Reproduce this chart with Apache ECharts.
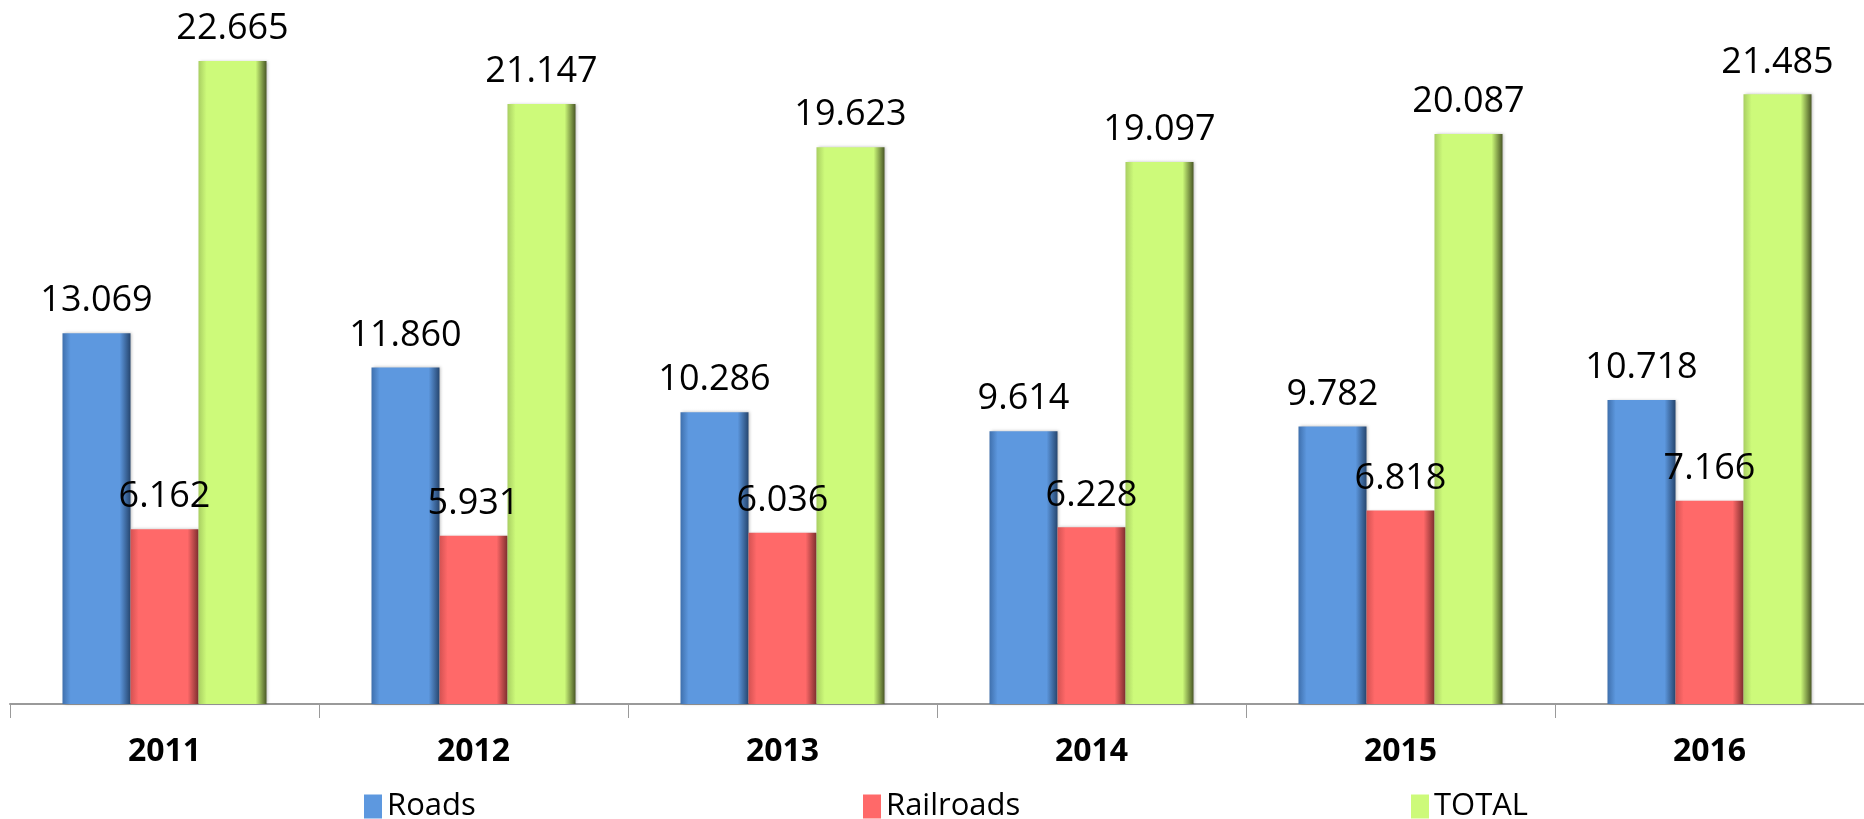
<!DOCTYPE html>
<html>
<head>
<meta charset="utf-8">
<script src="https://cdn.jsdelivr.net/npm/echarts@6/dist/echarts.min.js"></script>
<style>
html,body{margin:0;padding:0;background:#fff;}
#chart{width:1864px;height:819px;}
</style>
</head>
<body>
<div id="chart"></div>
<script>
const categories = ['2011', '2012', '2013', '2014', '2015', '2016'];
const roads = [13.069, 11.860, 10.286, 9.614, 9.782, 10.718];
const railroads = [6.162, 5.931, 6.036, 6.228, 6.818, 7.166];
const total = [22.665, 21.147, 19.623, 19.097, 20.087, 21.485];
const seriesNames = ['Roads', 'Railroads', 'TOTAL'];

const FONT = '"Open Sans", "Noto Sans", sans-serif';

function grad(edgeL, main, edgeR) {
  return new echarts.graphic.LinearGradient(0, 0, 1, 0, [
    {offset: 0, color: edgeL},
    {offset: 0.12, color: main},
    {offset: 0.84, color: main},
    {offset: 1, color: edgeR}
  ]);
}
const styles = [
  {main: '#5d98df', l: '#3f70ad', r: '#26466f'},
  {main: '#ff6969', l: '#d45252', r: '#7e2e2e'},
  {main: '#cdfa7a', l: '#a9cf62', r: '#4a5826'}
];
const dataSets = [roads, railroads, total];

function fmt(v) { return v.toFixed(3); }

const series = seriesNames.map((name, i) => ({
  name: name,
  type: 'bar',
  data: dataSets[i],
  barWidth: 68,
  barGap: '0%',
  itemStyle: {
    color: grad(styles[i].l, styles[i].main, styles[i].r),
    shadowColor: 'rgba(0,0,0,0.25)',
    shadowBlur: 3,
    shadowOffsetX: 1
  },
  label: {
    show: true,
    position: 'top',
    distance: 14,
    formatter: p => fmt(p.value),
    fontFamily: FONT,
    fontSize: 36,
    color: '#000'
  }
}));

const legendLeft = [359, 858, 1406];
const legends = seriesNames.map((name, i) => ({
  data: [{name: name, itemStyle: {color: styles[i].main}}],
  left: legendLeft[i],
  top: 786,
  icon: 'rect',
  itemWidth: 18,
  itemHeight: 24,
  itemGap: 6,
  textStyle: {fontFamily: FONT, fontSize: 31, color: '#000'}
}));

const chart = echarts.init(document.getElementById('chart'), null, {renderer: 'canvas'});
chart.setOption({
  animation: false,
  backgroundColor: '#fff',
  grid: {left: 10, right: 0, top: 23, bottom: 115, containLabel: false},
  legend: legends,
  xAxis: {
    type: 'category',
    data: categories,
    boundaryGap: true,
    axisLine: {show: true, lineStyle: {color: '#9a9a9a', width: 2}},
    axisTick: {show: true, length: 14, lineStyle: {color: '#9a9a9a', width: 1}},
    axisLabel: {
      margin: 32,
      fontFamily: FONT,
      fontWeight: 'bold',
      fontSize: 32,
      color: '#000'
    }
  },
  yAxis: {
    type: 'value',
    min: 0,
    max: 24,
    interval: 4,
    show: false,
    splitLine: {show: false}
  },
  series: series
});
</script>
</body>
</html>
